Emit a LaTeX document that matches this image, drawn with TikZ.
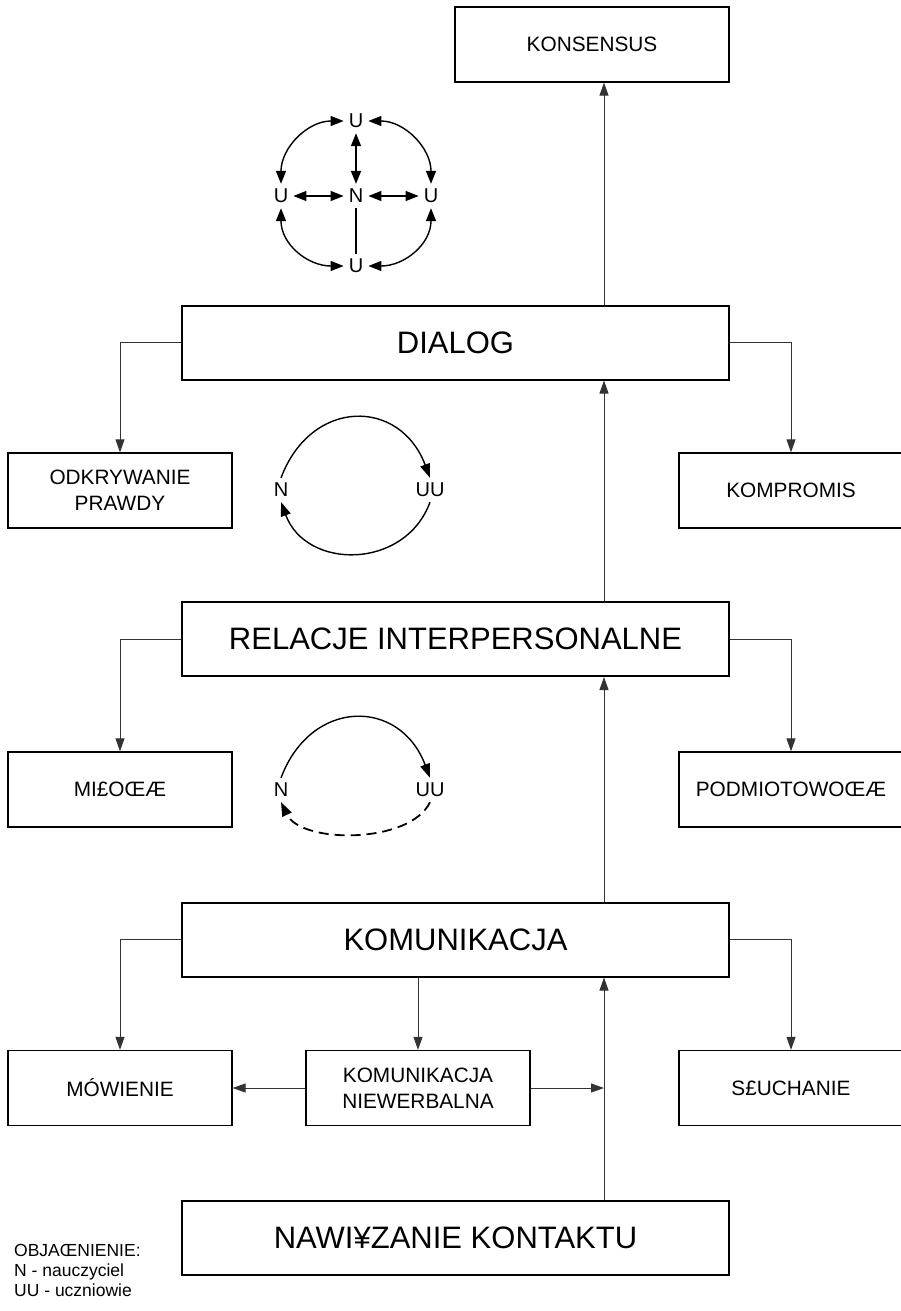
\documentclass[tikz,border=0pt]{standalone}
\usepackage{fontspec}
\setmainfont{Liberation Sans}
\usetikzlibrary{arrows.meta}

\begin{document}
\begin{tikzpicture}[x=1pt,y=1pt,
    bigbox/.style={draw, line width=2pt, minimum width=547pt, minimum height=74pt, inner sep=0pt, font=\fontsize{31}{36}\selectfont},
    smallbox/.style={draw, line width=1.3pt, minimum width=224pt, minimum height=75pt, inner sep=0pt, align=center, font=\fontsize{20.8}{26}\selectfont},
    link/.style={draw=black!80, line width=1pt, -{Triangle[length=13pt,width=9pt]}},
    letter/.style={inner sep=5pt, font=\fontsize{20}{24}\selectfont},
    cyc/.style={line width=1.4pt, -{Triangle[length=14pt,width=10pt]}},
    both/.style={line width=1.4pt, {Triangle[length=13pt,width=10pt]}-{Triangle[length=13pt,width=10pt]}}]
    \useasboundingbox (0,0) rectangle (900,-1311);
    \coordinate (axis) at (604,-1311);

    % glowne poziomy
    \node[smallbox, minimum width=274pt] (konsensus) at (592,-44.5) {KONSENSUS};
    \node[bigbox] (dialog) at (455.5,-342.5) {DIALOG};
    \node[bigbox] (relacje) at (455.5,-639) {RELACJE INTERPERSONALNE};
    \node[bigbox] (komunikacja) at (455.5,-939.5) {KOMUNIKACJA};
    \node[bigbox] (kontakt) at (455.5,-1237.5) {NAWI¥ZANIE KONTAKTU};

    % boczne pola
    \node[smallbox] (prawda) at (120,-490.5) {ODKRYWANIE\\PRAWDY};
    \node[smallbox] (kompromis) at (791,-490.5) {KOMPROMIS};
    \node[smallbox] (milosc) at (120,-789.5) {MI£OŒÆ};
    \node[smallbox] (podmiot) at (791,-789.5) {PODMIOTOWOŒÆ};
    \node[smallbox] (mowienie) at (120,-1088) {MÓWIENIE};
    \node[smallbox] (niewerbalna) at (418,-1088) {KOMUNIKACJA\\NIEWERBALNA};
    \node[smallbox] (sluchanie) at (791,-1088) {S£UCHANIE};

    \draw[link] (dialog.north -| axis) -- (konsensus.south -| axis);
    \draw[link] (relacje.north -| axis) -- (dialog.south -| axis);
    \draw[link] (komunikacja.north -| axis) -- (relacje.south -| axis);
    \draw[link] (kontakt.north -| axis) -- (komunikacja.south -| axis);
    \draw[link] (dialog.west) -| (prawda.north);
    \draw[link] (dialog.east) -| (kompromis.north);
    \draw[link] (relacje.west) -| (milosc.north);
    \draw[link] (relacje.east) -| (podmiot.north);
    \draw[link] (komunikacja.west) -| (mowienie.north);
    \draw[link] (komunikacja.east) -| (sluchanie.north);
    \draw[link] (komunikacja.south -| niewerbalna.north) -- (niewerbalna.north);
    \draw[link] (niewerbalna.west) -- (mowienie.east);
    \draw[link] (niewerbalna.east) -- (niewerbalna.east -| axis);

    % krzyz N - U
    \node[letter] (n0) at (356,-196) {N};
    \node[letter] (ut) at (356,-121) {U};
    \node[letter] (ul) at (281,-196) {U};
    \node[letter] (ur) at (431,-196) {U};
    \node[letter] (ub) at (356,-266) {U};
    \draw[both] (ut.west) .. controls +(-36,0) and +(0,36) .. (ul.north);
    \draw[both] (ut.east) .. controls +(36,0) and +(0,36) .. (ur.north);
    \draw[both] (ul.south) .. controls +(0,-36) and +(-36,0) .. (ub.west);
    \draw[both] (ur.south) .. controls +(0,-36) and +(36,0) .. (ub.east);
    \draw[both] (n0) -- (ut);
    \draw[both] (n0) -- (ul);
    \draw[both] (n0) -- (ur);
    \draw[line width=1.4pt] (n0) -- (ub);

    % cykle N - UU
    \node[letter] (n1) at (281,-490) {N};
    \node[letter] (uu1) at (430,-490) {UU};
    \draw[cyc] (n1.north) .. controls +(30,80) and +(-30,80) .. (uu1.north);
    \draw[cyc] (uu1.south) .. controls +(-25,-68) and +(25,-68) .. (n1.south);

    \node[letter] (n2) at (281,-790) {N};
    \node[letter] (uu2) at (430,-790) {UU};
    \draw[cyc] (n2.north) .. controls +(30,80) and +(-30,80) .. (uu2.north);
    \draw[cyc, line width=1.8pt, dash pattern=on 10pt off 6pt] (uu2.south) .. controls +(-20,-42) and +(20,-42) .. (n2.south);

    \node[anchor=west, align=left, inner sep=0pt, font=\fontsize{17.5}{20}\selectfont] (legenda) at (14,-1270) {OBJAŒNIENIE:\\N - nauczyciel\\UU - uczniowie};
\end{tikzpicture}
\end{document}
